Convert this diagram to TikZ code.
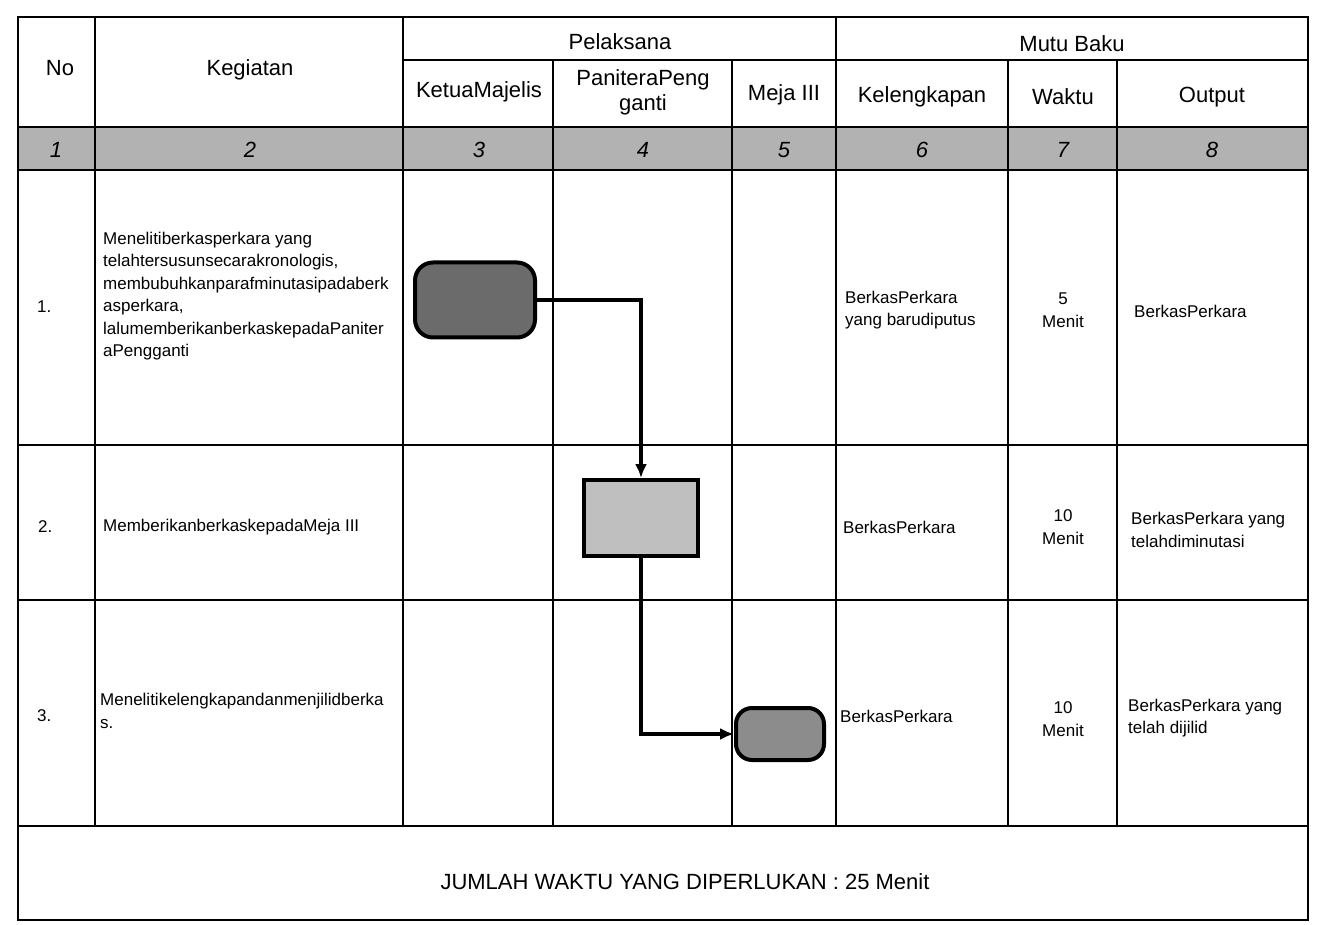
\documentclass[tikz,border=0pt]{standalone}
\usepackage{fontspec}
\setmainfont{Liberation Sans}
\usepackage{tikz}
\usetikzlibrary{shapes.geometric, arrows, arrows.meta, positioning, calc}
\newcommand{\headfont}{\fontsize{22}{25}\selectfont}
\newcommand{\cellfont}{\fontsize{17}{22.5}\selectfont}
\newcommand{\numfont}{\fontsize{22}{25}\selectfont\itshape}
\tikzstyle{terminal} = [rectangle, rounded corners=18pt, draw=black, line width=4pt, inner sep=0pt]
\tikzstyle{process} = [rectangle, draw=black, line width=4pt, fill=black!25, inner sep=0pt]
\tikzstyle{head} = [font=\headfont, align=center, inner sep=0pt]
\tikzstyle{num} = [font=\numfont, inner sep=0pt]
\tikzstyle{cell} = [font=\cellfont, align=left, anchor=west, inner sep=0pt]
\tikzstyle{mid} = [font=\cellfont, align=center, inner sep=0pt]
\tikzstyle{grid} = [line width=1.5pt]
\tikzstyle{arrow} = [line width=3.5pt, -{Latex[length=14pt,width=12pt]}]

\begin{document}
\begin{tikzpicture}[x=1pt, y=-1pt]
                \useasboundingbox (0,0) rectangle (1318,925);
                % table
                \fill [black!30] (18,127) rectangle (1308,170);
                \draw [grid] (18,17) rectangle (1308,920);
                \draw [grid] (403,60) -- (1308,60);
                \draw [grid] (18,127) -- (1308,127);
                \draw [grid] (18,170) -- (1308,170);
                \draw [grid] (18,445) -- (1308,445);
                \draw [grid] (18,600) -- (1308,600);
                \draw [grid] (18,826) -- (1308,826);
                \draw [grid] (95,17) -- (95,826);
                \draw [grid] (403,17) -- (403,826);
                \draw [grid] (836,17) -- (836,826);
                \foreach \x in {553,732,1008,1117}
                    \draw [grid] (\x,60) -- (\x,826);

                % header
                \node (no) [head] at (60,68) {No};
                \node (kegiatan) [head] at (250,70) {Kegiatan};
                \node (pelaksana) [head] at (620,42) {Pelaksana};
                \node (mutubaku) [head] at (1072,44) {Mutu Baku};
                \node (ketua) [head] at (479,92) {KetuaMajelis};
                \node (panitera) [head] at (643,92) {PaniteraPeng\\ganti};
                \node (meja) [head] at (784,95) {Meja III};
                \node (kelengkapan) [head] at (922,97) {Kelengkapan};
                \node (waktu) [head] at (1063,97) {Waktu};
                \node (output) [head] at (1212,97) {Output};

                \node (n1) [num] at (56,150) {1};
                \node (n2) [num] at (250,150) {2};
                \node (n3) [num] at (479,150) {3};
                \node (n4) [num] at (643,150) {4};
                \node (n5) [num] at (784,150) {5};
                \node (n6) [num] at (922,150) {6};
                \node (n7) [num] at (1063,150) {7};
                \node (n8) [num] at (1212,150) {8};

                % row 1
                \node (no1) [cell] at (37,307) {1.};
                \node (keg1) [cell] at (103,296) {Menelitiberkasperkara yang\\
                    telahtersusunsecarakronologis,\\
                    membubuhkanparafminutasipadaberk\\
                    asperkara,\\
                    lalumemberikanberkaskepadaPaniter\\
                    aPengganti};
                \node (kel1) [cell] at (845,310) {BerkasPerkara\\yang barudiputus};
                \node (wak1) [mid] at (1063,310) {5\\Menit};
                \node (out1) [cell] at (1134,311) {BerkasPerkara};

                % row 2
                \node (no2) [cell] at (38,527) {2.};
                \node (keg2) [cell] at (103,527) {MemberikanberkaskepadaMeja III};
                \node (kel2) [cell] at (843,527) {BerkasPerkara};
                \node (wak2) [mid] at (1063,527) {10\\Menit};
                \node (out2) [cell] at (1131,530) {BerkasPerkara yang\\telahdiminutasi};

                % row 3
                \node (no3) [cell] at (37,716) {3.};
                \node (keg3) [cell] at (100,711) {Menelitikelengkapandanmenjilidberka\\s.};
                \node (kel3) [cell] at (840,716) {BerkasPerkara};
                \node (wak3) [mid] at (1063,719) {10\\Menit};
                \node (out3) [cell] at (1128,718) {BerkasPerkara yang\\telah dijilid};

                % total
                \node (total) [head] at (685,882) {JUMLAH WAKTU YANG DIPERLUKAN : 25 Menit};

                % flow
                \node (start) [terminal, fill=black!58, minimum width=120pt, minimum height=75pt] at (475,300) {};
                \node (berkas) [process, minimum width=114pt, minimum height=76pt] at (641,518) {};
                \node (jilid) [terminal, fill=black!45, minimum width=88pt, minimum height=52pt, rounded corners=16pt] at (780,734) {};

                \draw [arrow] (start.east) -| (berkas.north);
                \draw [arrow] (berkas.south) |- (jilid.west);
\end{tikzpicture}
\end{document}
